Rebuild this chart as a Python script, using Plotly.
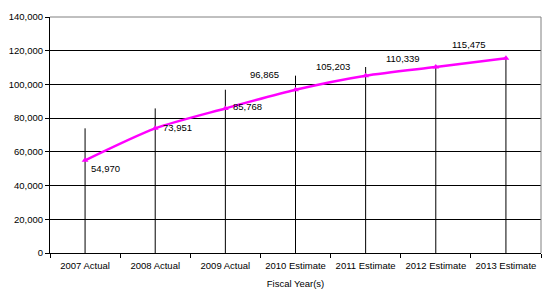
import plotly.graph_objects as go

categories = ["2007 Actual", "2008 Actual", "2009 Actual", "2010 Estimate",
              "2011 Estimate", "2012 Estimate", "2013 Estimate"]
values = [54970, 73951, 85768, 96865, 105203, 110339, 115475]
drop_line_tops = [73951, 85768, 96865, 105203, 110339, 110339, 115475]
y_ticks = [0, 20000, 40000, 60000, 80000, 100000, 120000, 140000]

FONT = dict(family="Liberation Sans, Arial, sans-serif", size=9.5, color="black")

fig = go.Figure()

# vertical drop lines
lx, ly = [], []
for c, t in zip(categories, drop_line_tops):
    lx += [c, c, None]
    ly += [0, t, None]
fig.add_trace(go.Scatter(x=lx, y=ly, mode="lines",
                         line=dict(color="black", width=1),
                         hoverinfo="skip", showlegend=False))

fig.add_trace(go.Scatter(x=categories, y=values, mode="lines+markers",
                         line=dict(color="#FF00FF", width=2.5, shape="spline", smoothing=0.7),
                         marker=dict(symbol="triangle-up", size=6, color="#FF00FF"),
                         showlegend=False))

shifts = [(20, -8), (22, 1), (22, 2), (-31, 15), (-33, 9), (-33, 9), (-37, 14)]
for c, v, (dx, dy) in zip(categories, values, shifts):
    fig.add_annotation(x=c, y=v, text=f"{v:,}", showarrow=False,
                       xshift=dx, yshift=dy, font=FONT)

fig.update_layout(
    width=550, height=303,
    margin=dict(l=48, r=9, t=17, b=50),
    paper_bgcolor="white", plot_bgcolor="white",
    font=FONT,
    xaxis=dict(type="category", categoryorder="array", categoryarray=categories,
               tickson="boundaries", ticks="outside", ticklen=4, tickcolor="black",
               showline=True, linecolor="black", linewidth=1, mirror=False,
               showgrid=False, zeroline=False, range=[-0.5, 6.5],
               ticklabelstandoff=4,
               title=dict(text="Fiscal Year(s)", font=FONT, standoff=9),
               tickfont=FONT),
    yaxis=dict(range=[0, 140000], tickvals=y_ticks,
               ticktext=[f"{t:,}" for t in y_ticks],
               ticks="outside", ticklen=4, tickcolor="black",
               showline=True, linecolor="black", linewidth=1,
               showgrid=True, gridcolor="black", gridwidth=1,
               zeroline=False, tickfont=FONT),
    shapes=[
        dict(type="line", xref="paper", yref="paper", x0=0, x1=1, y0=1, y1=1,
             line=dict(color="#808080", width=1)),
        dict(type="line", xref="paper", yref="paper", x0=1, x1=1, y0=0, y1=1,
             line=dict(color="#808080", width=1)),
    ],
)

fig.write_html("out.html")
